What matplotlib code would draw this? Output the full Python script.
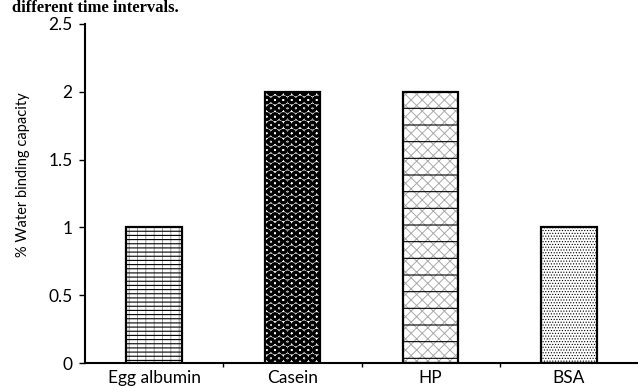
import numpy as np
import matplotlib.pyplot as plt

plt.rcParams['font.family'] = ['Lato', 'DejaVu Sans']

# data
proteins = ['Egg albumin', 'Casein', 'HP', 'BSA']
wbc = [1.0, 2.0, 2.0, 1.0]

# fill patterns per bar: (hatch, colour, hatch linewidth) layers
patterns = [
    [('||', '#888888', 0.6), ('----', 'black', 0.8)],
    [('++', '#888888', 0.6), ('OO', 'black', 1.9)],
    [('xxx', '#aaaaaa', 0.7), ('-', 'black', 0.8)],
    [('......', 'black', 0.5)],
]

fig = plt.figure(figsize=(6.38, 3.89), dpi=100)
ax = fig.add_axes([85/638, 26/389, 553/638, 339/389])

x = np.arange(len(proteins))
for i in range(len(proteins)):
    ax.bar(x[i], wbc[i], width=0.4, facecolor='white', linewidth=0)
    for h, c, lw in patterns[i]:
        with plt.rc_context({'hatch.linewidth': lw}):
            ax.bar(x[i], wbc[i], width=0.4, facecolor='none', edgecolor=c,
                   hatch=h, linewidth=0)
    ax.bar(x[i], wbc[i], width=0.4, facecolor='none', edgecolor='black', linewidth=1.6)

ax.set_xlim(-0.5, len(proteins) - 0.5)
ax.set_ylim(0, 2.5)
ax.set_yticks([0, 0.5, 1, 1.5, 2, 2.5])
ax.set_yticklabels(['0', '0.5', '1', '1.5', '2', '2.5'])
ax.set_xticks(x)
ax.set_xticklabels(proteins)
ax.set_xticks(np.arange(0.5, len(proteins) - 0.5, 1), minor=True)
ax.tick_params(axis='x', which='major', length=0, labelsize=12.5, pad=5)
ax.tick_params(axis='x', which='minor', length=3, direction='out', width=1)
ax.tick_params(axis='y', length=4, width=1, labelsize=12.5, pad=5)
ax.set_ylabel('% Water binding capacity', fontsize=10.5)
ax.yaxis.set_label_coords(-0.1, 0.555)

for s in ['top', 'right']:
    ax.spines[s].set_visible(False)
ax.spines['left'].set_linewidth(1.5)
ax.spines['bottom'].set_linewidth(1.5)

fig.text(12/638, 377/389, 'different time intervals.', fontsize=12, fontweight='bold',
         family='Liberation Serif', va='baseline')

plt.savefig('out.png', dpi=100)
